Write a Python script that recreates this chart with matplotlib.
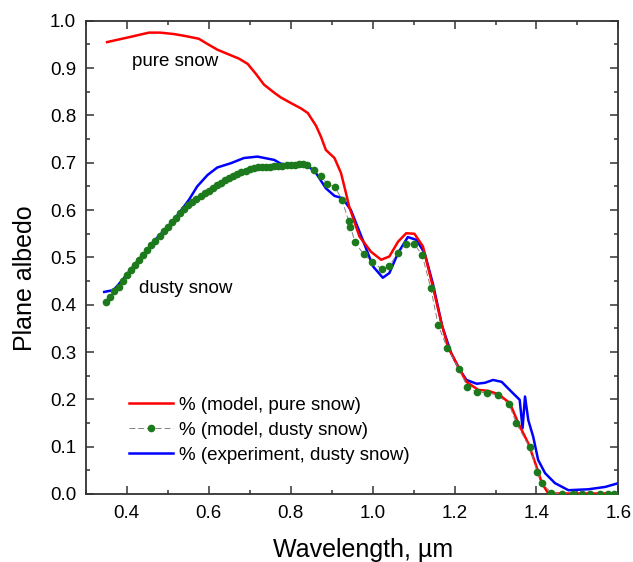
import numpy as np
import matplotlib
matplotlib.use('Agg')
import matplotlib.pyplot as plt
from matplotlib.ticker import MultipleLocator, FormatStrFormatter

plt.rcParams['font.family'] = ['Liberation Sans', 'DejaVu Sans']

# model, pure snow
pure_x = [0.352, 0.409, 0.454, 0.482, 0.515, 0.548, 0.576, 0.597, 0.621, 0.646,
          0.674, 0.695, 0.715, 0.735, 0.760, 0.776, 0.801, 0.825, 0.842, 0.862,
          0.874, 0.886, 0.907, 0.923, 0.935, 0.943, 0.968, 0.996, 1.021, 1.041,
          1.062, 1.082, 1.102, 1.123, 1.147, 1.168, 1.184, 1.209, 1.229, 1.258,
          1.282, 1.307, 1.335, 1.356, 1.380, 1.400, 1.413, 1.429, 1.60]
pure_y = [0.955, 0.966, 0.975, 0.975, 0.972, 0.967, 0.962, 0.951, 0.939, 0.930,
          0.920, 0.909, 0.888, 0.865, 0.848, 0.838, 0.826, 0.815, 0.805, 0.778,
          0.755, 0.727, 0.710, 0.678, 0.636, 0.607, 0.544, 0.512, 0.495, 0.502,
          0.533, 0.551, 0.550, 0.523, 0.438, 0.361, 0.311, 0.269, 0.237, 0.220,
          0.218, 0.211, 0.192, 0.149, 0.107, 0.058, 0.023, 0.001, 0.001]

# model, dusty snow
dusty_x = [0.35, 0.36, 0.37, 0.38, 0.39, 0.40, 0.41, 0.42, 0.43, 0.44,
           0.45, 0.46, 0.47, 0.48, 0.49, 0.50, 0.51, 0.52, 0.53, 0.54,
           0.55, 0.56, 0.57, 0.58, 0.59, 0.60, 0.61, 0.62, 0.63, 0.64,
           0.65, 0.66, 0.67, 0.68, 0.69, 0.70, 0.71, 0.72, 0.73, 0.74,
           0.75, 0.76, 0.77, 0.78, 0.79, 0.80, 0.81, 0.82, 0.83, 0.84,
           0.858, 0.874, 0.889, 0.909, 0.925, 0.942, 0.946, 0.957, 0.978, 0.998,
           1.023, 1.041, 1.062, 1.082, 1.102, 1.121, 1.142, 1.160, 1.182, 1.211,
           1.231, 1.254, 1.280, 1.305, 1.333, 1.351, 1.383, 1.402, 1.413, 1.435,
           1.462, 1.49, 1.51, 1.53, 1.555, 1.575, 1.59]
dusty_y = [0.405, 0.416, 0.428, 0.438, 0.450, 0.462, 0.473, 0.484, 0.495, 0.506,
           0.516, 0.526, 0.535, 0.545, 0.555, 0.565, 0.575, 0.584, 0.593, 0.602,
           0.610, 0.617, 0.624, 0.630, 0.636, 0.641, 0.646, 0.652, 0.658, 0.663,
           0.668, 0.672, 0.676, 0.680, 0.683, 0.686, 0.688, 0.690, 0.691, 0.692,
           0.692, 0.693, 0.693, 0.694, 0.695, 0.696, 0.696, 0.697, 0.697, 0.695,
           0.685, 0.672, 0.656, 0.648, 0.622, 0.576, 0.565, 0.532, 0.507, 0.491,
           0.475, 0.482, 0.510, 0.529, 0.528, 0.505, 0.435, 0.357, 0.309, 0.264,
           0.227, 0.215, 0.214, 0.209, 0.190, 0.149, 0.099, 0.046, 0.024, 0.003,
           0.0, 0.0, 0.0, 0.0, 0.0, 0.0, 0.0]

# experiment, dusty snow
exp_x = [0.345, 0.368, 0.389, 0.425, 0.474, 0.515, 0.552, 0.572, 0.597, 0.621,
         0.654, 0.686, 0.719, 0.760, 0.776, 0.809, 0.842, 0.862, 0.886, 0.907,
         0.927, 0.947, 0.976, 1.001, 1.025, 1.041, 1.062, 1.086, 1.107, 1.127,
         1.147, 1.170, 1.192, 1.213, 1.229, 1.254, 1.274, 1.294, 1.315, 1.339,
         1.359, 1.366, 1.372, 1.380, 1.392, 1.404, 1.421, 1.445, 1.478, 1.527,
         1.568, 1.604]
exp_y = [0.427, 0.431, 0.452, 0.491, 0.541, 0.579, 0.622, 0.650, 0.674, 0.690,
         0.699, 0.710, 0.713, 0.706, 0.698, 0.694, 0.694, 0.678, 0.646, 0.630,
         0.625, 0.600, 0.537, 0.481, 0.457, 0.467, 0.509, 0.543, 0.537, 0.509,
         0.445, 0.354, 0.297, 0.262, 0.241, 0.233, 0.235, 0.241, 0.237, 0.216,
         0.199, 0.139, 0.206, 0.156, 0.121, 0.072, 0.044, 0.023, 0.008, 0.010,
         0.015, 0.024]

fig = plt.figure(figsize=(6.33, 5.62), dpi=100)
ax = fig.add_axes([0.1355, 0.121, 0.8415, 0.842])

ax.plot(pure_x, pure_y, color='#ff0000', lw=1.8, label='% (model, pure snow)', zorder=3)
ax.plot(dusty_x, dusty_y, color='#808080', lw=0.7, ls=(0, (6, 3)),
        marker='o', ms=4.5, mfc='#1c7a1c', mec='#1c7a1c',
        label='% (model, dusty snow)', zorder=4)
ax.plot(exp_x, exp_y, color='#0000ff', lw=1.8, label='% (experiment, dusty snow)', zorder=2)

ax.set_xlim(0.3, 1.6)
ax.set_ylim(0.0, 1.0)
ax.xaxis.set_major_locator(MultipleLocator(0.2))
ax.xaxis.set_minor_locator(MultipleLocator(0.1))
ax.yaxis.set_major_locator(MultipleLocator(0.1))
ax.yaxis.set_minor_locator(MultipleLocator(0.05))
ax.xaxis.set_major_formatter(FormatStrFormatter('%.1f'))
ax.yaxis.set_major_formatter(FormatStrFormatter('%.1f'))
ax.tick_params(which='both', direction='in', top=True, right=True, width=1.1,
               color='#333333')
ax.tick_params(which='major', length=6, labelsize=13.5)
ax.tick_params(axis='x', which='major', pad=8)
ax.tick_params(axis='y', which='major', pad=7)
ax.tick_params(which='minor', length=3)
for s in ax.spines.values():
    s.set_linewidth(1.3)
    s.set_color('#333333')

ax.set_xlabel('Wavelength, µm', fontsize=18, va='top')
ax.set_ylabel('Plane albedo', fontsize=18)
ax.xaxis.set_label_coords(0.521, -0.093)
ax.yaxis.set_label_coords(-0.092, 0.456)

ax.text(0.414, 0.915, 'pure snow', fontsize=13.5, va='center')
ax.text(0.431, 0.435, 'dusty snow', fontsize=13.5, va='center')

ax.legend(loc='upper left', bbox_to_anchor=(0.081, 0.206), frameon=False,
          fontsize=13.5, handlelength=2.35, handletextpad=0.32, labelspacing=0.42,
          borderpad=0, borderaxespad=0)

fig.savefig('out.png', dpi=100)
